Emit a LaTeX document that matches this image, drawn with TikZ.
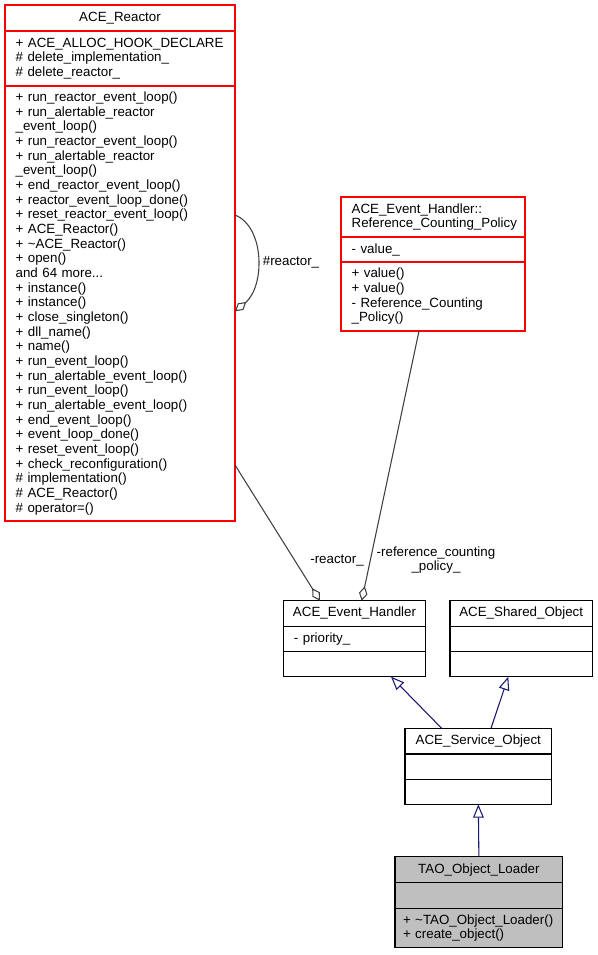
\documentclass[tikz,border=0pt]{standalone}
\usepackage{fontspec}
\setmainfont{Liberation Sans}
\usetikzlibrary{arrows.meta, positioning}
\definecolor{navy}{HTML}{191970}
\definecolor{edgegray}{HTML}{404040}
\definecolor{loadergray}{HTML}{BFBFBF}

\begin{document}
\begin{tikzpicture}[x=0.75pt,y=-0.75pt,font=\fontsize{10}{11}\selectfont]
    \tikzset{
        class head/.style={draw, line width=0.8pt, outer sep=0pt, inner sep=0pt, fill=white, anchor=north west},
        class part/.style={draw, line width=0.8pt, outer sep=0pt, inner xsep=8pt, inner ysep=0pt, align=left, fill=white},
        red class/.style={draw=red},
        loader class/.style={fill=loadergray},
        inherit/.style={draw=navy, line width=0.8pt, -{Triangle[open, length=10pt, width=8pt]}},
        aggr/.style={draw=edgegray, line width=0.8pt, -{Diamond[open, length=11pt, width=6.5pt]}},
        edge lbl/.style={inner sep=0pt, align=center}
      }
\useasboundingbox (0,0) rectangle (597,955);
% ACE_Reactor
\node[class head, red class, minimum width=172.5pt, minimum height=19.5pt] (reactor) at (5,5) {ACE\_Reactor};
\node[class part, red class, text width=156.5pt, minimum height=41.25pt, below=0pt of reactor] (reactor attr) {+ ACE\_ALLOC\_HOOK\_DECLARE\\\# delete\_implementation\_\\\# delete\_reactor\_};
\node[class part, red class, text width=156.5pt, minimum height=326.25pt, below=0pt of reactor attr] (reactor ops) {+ run\_reactor\_event\_loop()\\+ run\_alertable\_reactor\\\_event\_loop()\\+ run\_reactor\_event\_loop()\\+ run\_alertable\_reactor\\\_event\_loop()\\+ end\_reactor\_event\_loop()\\+ reactor\_event\_loop\_done()\\+ reset\_reactor\_event\_loop()\\+ ACE\_Reactor()\\+ \textasciitilde ACE\_Reactor()\\+ open()\\and 64 more...\\+ instance()\\+ instance()\\+ close\_singleton()\\+ dll\_name()\\+ name()\\+ run\_event\_loop()\\+ run\_alertable\_event\_loop()\\+ run\_event\_loop()\\+ run\_alertable\_event\_loop()\\+ end\_event\_loop()\\+ event\_loop\_done()\\+ reset\_event\_loop()\\+ check\_reconfiguration()\\\# implementation()\\\# ACE\_Reactor()\\\# operator=()};
% ACE_Event_Handler::Reference_Counting_Policy
\node[class head, red class, inner xsep=8pt, align=left, text width=122pt, minimum height=30pt] (refc) at (341,197) {ACE\_Event\_Handler::\\Reference\_Counting\_Policy};
\node[class part, red class, text width=122pt, minimum height=18.75pt, below=0pt of refc] (refc attr) {- value\_};
\node[class part, red class, text width=122pt, minimum height=51.75pt, below=0pt of refc attr] (refc ops) {+ value()\\+ value()\\- Reference\_Counting\\\_Policy()};
% ACE_Event_Handler
\node[class head, minimum width=106.8pt, minimum height=19pt] (handler) at (283.3,600.7) {ACE\_Event\_Handler};
\node[class part, text width=90.8pt, minimum height=19.25pt, below=0pt of handler] (handler attr) {- priority\_};
\node[class part, text width=90.8pt, minimum height=18.75pt, below=0pt of handler attr] (handler ops) {};
% ACE_Shared_Object
\node[class head, minimum width=106.8pt, minimum height=19pt] (shared) at (450,600.7) {ACE\_Shared\_Object};
\node[class part, text width=90.8pt, minimum height=19.25pt, below=0pt of shared] (shared attr) {};
\node[class part, text width=90.8pt, minimum height=18.75pt, below=0pt of shared attr] (shared ops) {};
% ACE_Service_Object
\node[class head, minimum width=110pt, minimum height=19.25pt] (service) at (405,728.3) {ACE\_Service\_Object};
\node[class part, text width=94pt, minimum height=19pt, below=0pt of service] (service attr) {};
\node[class part, text width=94pt, minimum height=18.75pt, below=0pt of service attr] (service ops) {};
% TAO_Object_Loader
\node[class head, loader class, minimum width=125.8pt, minimum height=19.5pt] (loader) at (395,856.7) {TAO\_Object\_Loader};
\node[class part, loader class, text width=109.8pt, minimum height=19.2pt, below=0pt of loader] (loader attr) {};
\node[class part, loader class, inner xsep=6pt, text width=113.8pt, minimum height=29.5pt, below=0pt of loader attr] (loader ops) {+ \textasciitilde TAO\_Object\_Loader()\\+ create\_object()};
% usage edges
\draw[aggr] ([yshift=-96.75pt]reactor ops.north east) .. controls +(30,12) and +(30,-25) .. ([yshift=-169pt]reactor ops.north east);
\draw[aggr] ([yshift=-284.25pt]reactor ops.north east) -- ([xshift=27.5pt]handler.north west);
\draw[aggr] ([xshift=58.5pt]refc ops.south west) -- ([xshift=58.8pt]handler.north west);
\node[edge lbl] (reactor self lbl) at (291,262) {\#reactor\_};
\node[edge lbl] (reactor lbl) at (337,561) {-reactor\_};
\node[edge lbl] (policy lbl) at (436,560) {-reference\_counting\\\_policy\_};
% inheritance edges
\draw[inherit] ([xshift=27.5pt]service.north west) -- ([xshift=80.8pt]handler ops.south west);
\draw[inherit] ([xshift=64.5pt]service.north west) -- ([xshift=43.7pt]shared ops.south west);
\draw[inherit] (loader.north) -- (service ops.south);
\end{tikzpicture}
\end{document}
